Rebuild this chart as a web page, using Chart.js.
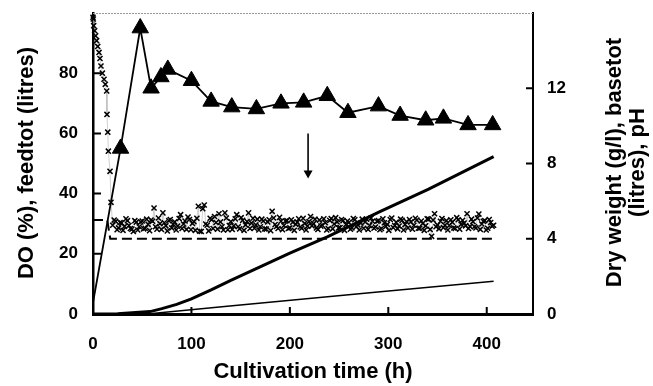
<!DOCTYPE html>
<html>
<head>
<meta charset="utf-8">
<script src="https://cdn.jsdelivr.net/npm/chart.js@4/dist/chart.umd.min.js"></script>
<style>
  body { margin: 0; background: #fff; }
</style>
</head>
<body>
<canvas id="cultChart" width="653" height="386"></canvas>
<script>
// tick labels
const xTicks = [0, 100, 200, 300, 400];
const leftTicks = [0, 20, 40, 60, 80];
const rightTicks = [0, 4, 8, 12];

// dry weight (g/l), right axis
const dwTime = [0, 28, 48, 59, 69, 76, 100, 120, 141, 166, 191, 214, 238, 259, 290, 312, 338, 356, 381, 406];
const dwValue = [0.6, 8.8, 15.2, 12.0, 12.6, 13.0, 12.4, 11.3, 11.0, 10.9, 11.2, 11.25, 11.6, 10.7, 11.05, 10.55, 10.3, 10.4, 10.05, 10.05];

// feedtot (litres), left axis
const feedTime = [0, 25, 58, 70, 85, 100, 120, 140, 200, 238, 292, 341, 407];
const feedValue = [0, 0.1, 0.8, 1.8, 3.2, 5.0, 8.0, 11.2, 20.2, 25.6, 34.1, 41.5, 52.3];

// basetot (litres), right axis
const baseTime = [0, 55, 139, 292, 407];
const baseValue = [0, 0, 0.43, 1.18, 1.74];

// pH, right axis
const phTime = [0, 14.5, 17.5, 407];
const phValue = [5, 5, 4, 4];

// DO (%), left axis - two interleaved sampling sets
const doTime = [0, 0.3, 0.7, 1.7, 2.7, 3.7, 4.8, 6.1, 7.1, 8.1, 9.5, 11.2, 12.5, 13.9, 14.2, 15, 15.6, 17.3, 18.3,
  20, 23, 26, 29, 32, 35, 38, 41, 44, 47,
  50, 53, 56, 59, 62, 65, 68, 71, 74, 77,
  80, 83, 86, 89, 92, 95, 98, 101, 104, 107,
  110, 113, 116, 119, 122, 125, 128, 131, 134, 137,
  140, 143, 146, 149, 152, 155, 158, 161, 164, 167,
  170, 173, 176, 179, 182, 185, 188, 191, 194, 197,
  200, 203, 206, 209, 212, 215, 218, 221, 224, 227,
  230, 233, 236, 239, 242, 245, 248, 251, 254, 257,
  260, 263, 266, 269, 272, 275, 278, 281, 284, 287,
  290, 293, 296, 299, 302, 305, 308, 311, 314, 317,
  320, 323, 326, 329, 332, 335, 338, 341, 344, 347,
  350, 353, 356, 359, 362, 365, 368, 371, 374, 377,
  380, 383, 386, 389, 392, 395, 398, 401, 404, 407];
const doValue = [98.6, 98, 95.8, 94.1, 92.4, 90.8, 88.9, 86.9, 84.9, 82.4, 80, 78, 76.3, 74.1, 66.3, 60.4, 54.1, 47.4, 37.1,
  29.5, 30.8, 28.6, 30.2, 29.1, 31.0, 28.4, 27.4, 30.5, 29.0,
  30.9, 28.5, 29.8, 31.2, 35.2, 28.2, 30.0, 33.6, 29.3, 31.0,
  28.6, 30.6, 29.2, 33.0, 29.9, 28.1, 31.4, 30.1, 27.8, 35.8,
  27.4, 36.2, 29.5, 31.8, 28.4, 30.4, 33.3, 29.0, 33.6, 28.0,
  30.7, 29.3, 33.0, 28.3, 31.1, 29.6, 33.6, 30.2, 28.5, 31.5,
  29.0, 30.9, 28.2, 31.3, 34.1, 29.7, 28.4, 30.8, 29.4, 31.0,
  28.6, 30.5, 29.8, 31.6, 28.5, 30.1, 29.2, 32.4, 30.0, 28.6,
  31.2, 29.5, 30.3, 28.4, 31.7, 29.9, 30.6, 28.7, 31.0, 29.7,
  30.4, 28.6, 31.3, 29.6, 30.2, 28.5, 31.5, 29.4, 30.8, 28.9,
  31.0, 28.4, 30.3, 29.8, 31.4, 28.7, 30.5, 29.2, 31.1, 29.7,
  28.6, 30.6, 29.5, 31.2, 28.5, 30.1, 29.3, 31.5, 25.8, 33.3,
  29.6, 30.8, 28.7, 31.0, 29.4, 30.5, 28.4, 31.3, 29.8, 30.2,
  33.3, 29.1, 30.7, 28.6, 33.2, 29.9, 31.0, 28.5, 30.4, 29.5];
const doTimeB = [21.5, 24.5, 27.5, 30.5, 33.5, 36.5, 39.5, 42.5, 45.5, 48.5,
  51.5, 54.5, 57.5, 60.5, 63.5, 66.5, 69.5, 72.5, 75.5, 78.5,
  81.5, 84.5, 87.5, 90.5, 93.5, 96.5, 99.5, 102.5, 105.5, 108.5,
  111.5, 114.5, 117.5, 120.5, 123.5, 126.5, 129.5, 132.5, 135.5, 138.5,
  141.5, 144.5, 147.5, 150.5, 153.5, 156.5, 159.5, 162.5, 165.5, 168.5,
  171.5, 174.5, 177.5, 180.5, 183.5, 186.5, 189.5, 192.5, 195.5, 198.5,
  201.5, 204.5, 207.5, 210.5, 213.5, 216.5, 219.5, 222.5, 225.5, 228.5,
  231.5, 234.5, 237.5, 240.5, 243.5, 246.5, 249.5, 252.5, 255.5, 258.5,
  261.5, 264.5, 267.5, 270.5, 273.5, 276.5, 279.5, 282.5, 285.5, 288.5,
  291.5, 294.5, 297.5, 300.5, 303.5, 306.5, 309.5, 312.5, 315.5, 318.5,
  321.5, 324.5, 327.5, 330.5, 333.5, 336.5, 339.5, 342.5, 345.5, 348.5,
  351.5, 354.5, 357.5, 360.5, 363.5, 366.5, 369.5, 372.5, 375.5, 378.5,
  381.5, 384.5, 387.5, 390.5, 393.5, 396.5, 399.5, 402.5, 405.5];
const doValueB = [31.2, 28.0, 30.4, 27.8, 31.6, 29.4, 28.2, 31.0, 27.9, 30.6,
  28.3, 31.5, 27.7, 30.8, 29.0, 31.9, 28.1, 30.3, 27.6, 31.4,
  29.8, 27.9, 31.7, 28.4, 30.9, 32.2, 28.0, 30.7, 31.8, 27.5,
  35.0, 29.9, 27.6, 31.3, 32.4, 28.2, 30.6, 27.9, 31.9, 29.4,
  28.1, 31.6, 29.0, 32.0, 27.8, 30.7, 28.4, 31.8, 29.6, 27.9,
  31.5, 28.3, 30.6, 27.7, 31.9, 29.1, 32.1, 28.0, 30.9, 28.4,
  31.3, 27.8, 30.5, 28.9, 31.8, 27.9, 30.7, 29.3, 31.5, 28.1,
  29.2, 31.6, 27.9, 31.1, 28.3, 32.0, 28.6, 31.4, 27.8, 30.9,
  28.2, 31.7, 29.0, 27.9, 31.5, 30.6, 28.1, 31.9, 28.5, 30.8,
  28.0, 31.6, 29.1, 27.8, 31.9, 29.4, 28.3, 31.5, 27.9, 30.7,
  31.4, 28.2, 31.8, 28.5, 30.9, 27.8, 31.6, 28.1, 31.2, 29.0,
  28.3, 31.7, 29.5, 27.9, 31.3, 28.6, 32.0, 28.2, 31.1, 29.3,
  28.4, 31.5, 29.0, 31.9, 28.1, 30.8, 27.9, 31.4, 29.2];

// arrow: time, from, to (left axis units)
const arrowAt = [218.5, 60, 45];

function pairs(xs, ys) {
  return xs.map((t, i) => ({ x: t, y: ys[i] }));
}

const doPoints = pairs(doTime, doValue).concat(pairs(doTimeB, doValueB)).sort((p, q) => p.x - q.x);

const tickFont = { family: "'Liberation Sans', Arial, sans-serif", size: 17, weight: 'bold' };

const extras = {
  id: 'extras',
  afterDatasetsDraw(chart) {
    const ctx = chart.ctx;
    const a = chart.chartArea;
    const { x, y, y2 } = chart.scales;
    ctx.save();

    // top frame, dotted grey
    ctx.strokeStyle = '#9a9a9a';
    ctx.lineWidth = 1.2;
    ctx.setLineDash([2, 1]);
    ctx.beginPath();
    ctx.moveTo(a.left, a.top + 0.5);
    ctx.lineTo(a.right, a.top + 0.5);
    ctx.stroke();
    ctx.setLineDash([]);

    // inward ticks
    ctx.strokeStyle = '#000';
    ctx.lineWidth = 2;
    ctx.beginPath();
    xTicks.slice(1).forEach(v => {
      const px = x.getPixelForValue(v);
      ctx.moveTo(px, a.bottom);
      ctx.lineTo(px, a.bottom - 7);
    });
    leftTicks.slice(1).forEach(v => {
      const py = y.getPixelForValue(v);
      ctx.moveTo(a.left, py);
      ctx.lineTo(a.left + 8, py);
    });
    rightTicks.slice(1).forEach(v => {
      const py = y2.getPixelForValue(v);
      ctx.moveTo(a.right, py);
      ctx.lineTo(a.right - 7, py);
    });
    ctx.stroke();

    // arrow
    const ax = x.getPixelForValue(arrowAt[0]);
    const ay1 = y.getPixelForValue(arrowAt[1]);
    const ay2 = y.getPixelForValue(arrowAt[2]);
    ctx.lineWidth = 1.6;
    ctx.beginPath();
    ctx.moveTo(ax, ay1);
    ctx.lineTo(ax, ay2 - 6);
    ctx.stroke();
    ctx.fillStyle = '#000';
    ctx.beginPath();
    ctx.moveTo(ax, ay2);
    ctx.lineTo(ax - 4.5, ay2 - 8);
    ctx.lineTo(ax + 4.5, ay2 - 8);
    ctx.closePath();
    ctx.fill();

    // axis titles
    ctx.font = "bold 22px 'Liberation Sans', Arial, sans-serif";
    ctx.textAlign = 'center';
    ctx.textBaseline = 'alphabetic';
    ctx.fillText('Cultivation time (h)', (a.left + a.right) / 2, 378);

    ctx.save();
    ctx.translate(33, 163);
    ctx.rotate(-Math.PI / 2);
    ctx.fillText('DO (%), feedtot (litres)', 0, 0);
    ctx.restore();

    ctx.save();
    ctx.translate(621, 162.5);
    ctx.rotate(-Math.PI / 2);
    ctx.fillText('Dry weight (g/l), basetot', 0, 0);
    ctx.fillText('(litres), pH', 0, 23);
    ctx.restore();

    ctx.restore();
  }
};

function noVerticalPad(s) {
  s.paddingTop = 13;
  s.paddingBottom = 0;
}

new Chart(document.getElementById('cultChart'), {
  type: 'line',
  data: {
    datasets: [
      {
        label: 'Dry weight',
        data: pairs(dwTime, dwValue),
        yAxisID: 'y2',
        borderColor: '#000',
        borderWidth: 1.8,
        backgroundColor: '#000',
        pointStyle: 'triangle',
        pointRadius: c => (c.dataIndex === 0 ? 0 : 9.5),
        pointBackgroundColor: '#000',
        pointBorderColor: '#000',
        pointBorderWidth: 1,
        clip: false,
        order: 1
      },
      {
        label: 'feedtot',
        data: pairs(feedTime, feedValue),
        yAxisID: 'y',
        borderColor: '#000',
        borderWidth: 3,
        pointRadius: 0,
        order: 2
      },
      {
        label: 'basetot',
        data: pairs(baseTime, baseValue),
        yAxisID: 'y2',
        borderColor: '#000',
        borderWidth: 1.5,
        pointRadius: 0,
        order: 3
      },
      {
        label: 'pH',
        data: pairs(phTime, phValue),
        yAxisID: 'y2',
        borderColor: '#000',
        borderWidth: 2,
        borderDash: [10, 5],
        pointRadius: 0,
        order: 4
      },
      {
        label: 'DO',
        data: doPoints,
        yAxisID: 'y',
        borderColor: '#a0a0a0',
        borderWidth: 0.5,
        pointStyle: 'crossRot',
        pointRadius: 3.6,
        pointBorderColor: '#000',
        pointBorderWidth: 1.5,
        clip: false,
        order: 5
      }
    ]
  },
  options: {
    responsive: false,
    animation: false,
    layout: { padding: 0 },
    plugins: { legend: { display: false }, tooltip: { enabled: false } },
    scales: {
      x: {
        type: 'linear',
        min: 0,
        max: 447,
        grid: { drawOnChartArea: false, drawTicks: false },
        border: { color: '#000', width: 3 },
        ticks: {
          stepSize: 100,
          padding: 20,
          color: '#000',
          font: tickFont,
          callback: v => (xTicks.includes(v) ? v : '')
        },
        afterFit: s => { s.height = 72; }
      },
      y: {
        position: 'left',
        min: 0,
        max: 100,
        grid: { drawOnChartArea: false, drawTicks: false },
        border: { color: '#000', width: 2.5 },
        ticks: {
          stepSize: 20,
          padding: 15,
          color: '#000',
          font: tickFont,
          callback: v => (leftTicks.includes(v) ? v : '')
        },
        afterFit: s => { s.width = 93; noVerticalPad(s); }
      },
      y2: {
        position: 'right',
        min: 0,
        max: 16,
        grid: { drawOnChartArea: false, drawTicks: false },
        border: { color: '#000', width: 2 },
        ticks: {
          stepSize: 4,
          padding: 14,
          color: '#000',
          font: tickFont,
          callback: v => (rightTicks.includes(v) ? v : '')
        },
        afterFit: s => { s.width = 120; noVerticalPad(s); }
      }
    }
  },
  plugins: [extras]
});
</script>
</body>
</html>
